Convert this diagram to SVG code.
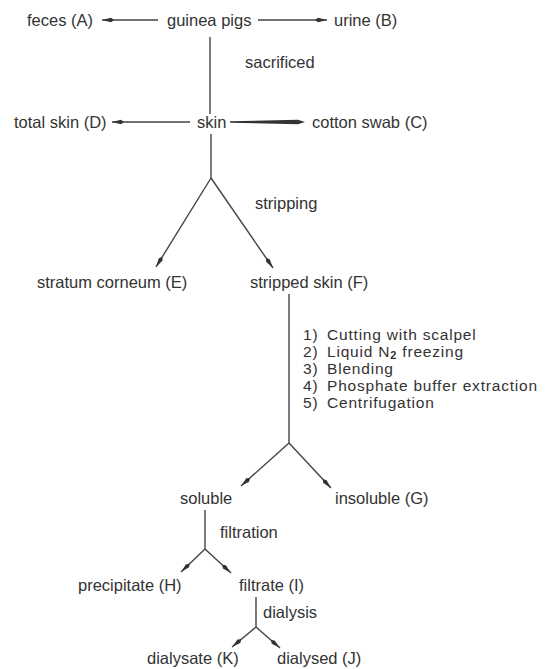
<svg xmlns="http://www.w3.org/2000/svg" width="546" height="669" viewBox="0 0 546 669">
<style>
text{font-family:"Liberation Sans","Noto Sans",Arial,sans-serif;font-size:16.5px;fill:#333;}
.st{font-size:15.5px;letter-spacing:0.8px;}
.ln{stroke:#444;stroke-width:1.4;fill:none;}
</style>
<defs>
<marker id="ah" viewBox="0 0 12 6" refX="12" refY="3" markerWidth="12" markerHeight="6" markerUnits="userSpaceOnUse" orient="auto">
<path d="M0,3 L3,0.8 L12,3 L3,5.2 z" fill="#333"/>
</marker>
</defs>
<rect width="546" height="669" fill="#fff"/>
<g id="connectors">
<line class="ln" x1="158" y1="20" x2="102" y2="20" marker-end="url(#ah)"/>
<line class="ln" x1="258" y1="20" x2="327" y2="20" marker-end="url(#ah)"/>
<line class="ln" x1="210" y1="37" x2="210" y2="114"/>
<line class="ln" x1="190" y1="122" x2="112" y2="122" marker-end="url(#ah)"/>
<polygon points="230,121.3 298,119.8 305,122 298,124.2 230,122.7" fill="#333"/>
<line class="ln" x1="211" y1="134" x2="211" y2="178"/>
<line class="ln" x1="211" y1="178" x2="156" y2="267" marker-end="url(#ah)"/>
<line class="ln" x1="211" y1="178" x2="273" y2="268" marker-end="url(#ah)"/>
<line class="ln" x1="289" y1="294" x2="289" y2="443"/>
<line class="ln" x1="289" y1="443" x2="241" y2="486" marker-end="url(#ah)"/>
<line class="ln" x1="289" y1="443" x2="331" y2="488" marker-end="url(#ah)"/>
<line class="ln" x1="205" y1="510" x2="205" y2="549"/>
<line class="ln" x1="205" y1="549" x2="181" y2="572" marker-end="url(#ah)"/>
<line class="ln" x1="205" y1="549" x2="231" y2="573" marker-end="url(#ah)"/>
<line class="ln" x1="256" y1="597" x2="256" y2="627"/>
<line class="ln" x1="256" y1="627" x2="232" y2="647" marker-end="url(#ah)"/>
<line class="ln" x1="256" y1="627" x2="280" y2="648" marker-end="url(#ah)"/>
</g>
<g id="guinea-pigs"><text x="167" y="26">guinea pigs</text></g>
<g id="feces"><text x="27" y="26">feces (A)</text></g>
<g id="urine"><text x="334" y="26">urine (B)</text></g>
<g id="sacrificed"><text x="245" y="68">sacrificed</text></g>
<g id="skin"><text x="197" y="128">skin</text></g>
<g id="total-skin"><text x="14" y="128">total skin (D)</text></g>
<g id="cotton-swab"><text x="312" y="128">cotton swab (C)</text></g>
<g id="stripping"><text x="255" y="209">stripping</text></g>
<g id="stratum-corneum"><text x="37" y="288">stratum corneum (E)</text></g>
<g id="stripped-skin"><text x="250" y="288">stripped skin (F)</text></g>
<g id="steps">
<text class="st" x="303" y="340">1)</text><text class="st" x="327" y="340">Cutting with scalpel</text>
<text class="st" x="303" y="357">2)</text><text class="st" x="327" y="357">Liquid N<tspan font-size="11" font-weight="bold" dy="2">2</tspan><tspan dy="-2"> freezing</tspan></text>
<text class="st" x="303" y="374">3)</text><text class="st" x="327" y="374">Blending</text>
<text class="st" x="303" y="391">4)</text><text class="st" x="327" y="391">Phosphate buffer extraction</text>
<text class="st" x="303" y="408">5)</text><text class="st" x="327" y="408">Centrifugation</text>
</g>
<g id="soluble"><text x="180" y="504">soluble</text></g>
<g id="insoluble"><text x="335" y="504">insoluble (G)</text></g>
<g id="filtration"><text x="220" y="538">filtration</text></g>
<g id="precipitate"><text x="78" y="591">precipitate (H)</text></g>
<g id="filtrate"><text x="239" y="591">filtrate (I)</text></g>
<g id="dialysis"><text x="263" y="618">dialysis</text></g>
<g id="dialysate"><text x="147" y="664">dialysate (K)</text></g>
<g id="dialysed"><text x="277" y="664">dialysed (J)</text></g>
</svg>
